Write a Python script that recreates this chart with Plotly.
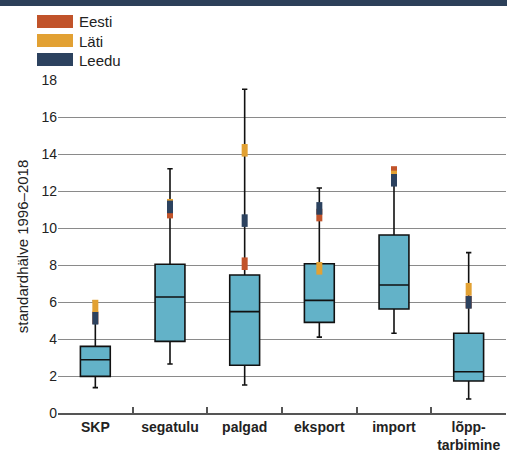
import plotly.graph_objects as go

# Standard deviation of growth rates, 1996–2018 (box = distribution across countries)
categories = ["SKP", "segatulu", "palgad", "eksport", "import", "lõpp-<br>tarbimine"]
q1 = [1.98, 3.87, 2.58, 4.90, 5.62, 1.73]
median = [2.88, 6.27, 5.48, 6.09, 6.92, 2.23]
q3 = [3.60, 8.04, 7.46, 8.07, 9.62, 4.31]
lower_whisker = [1.37, 2.65, 1.51, 4.10, 4.31, 0.76]
upper_whisker = [6.07, 13.20, 17.50, 12.16, 12.50, 8.67]

countries = ["Eesti", "Läti", "Leedu"]
eesti = [5.15, 10.86, 8.07, 10.70, 13.00, 6.00]
lati = [5.78, 11.23, 14.20, 7.82, 12.76, 6.69]
leedu = [5.12, 11.14, 10.40, 11.06, 12.58, 5.98]
country_values = [eesti, lati, leedu]
country_colors = ["#c1532a", "#e2a133", "#2c425f"]

y_ticks = [0, 2, 4, 6, 8, 10, 12, 14, 16, 18]

W, H = 507, 452
ML, MR, MT, MB = 58, 1, 80, 39
PW, PH = W - ML - MR, H - MT - MB
FONT = "Liberation Sans, Arial, Helvetica, sans-serif"


def px_x(p):
    return (p - ML) / PW


def px_y(p):
    return (H - MB - p) / PH


fig = go.Figure()

fig.add_trace(go.Box(
    x=categories,
    q1=q1, median=median, q3=q3,
    lowerfence=lower_whisker, upperfence=upper_whisker,
    width=0.4, whiskerwidth=0.18,
    fillcolor="#63b2c8",
    line=dict(color="#111111", width=1.6),
    boxpoints=False, showlegend=False, hoverinfo="skip",
))

for name, vals, col in zip(countries, country_values, country_colors):
    fig.add_trace(go.Scatter(
        x=categories, y=vals, mode="markers", name=name,
        marker=dict(symbol="line-ns", size=9, color=col,
                    line=dict(color=col, width=6)),
        showlegend=False, hoverinfo="skip",
    ))

shapes = [
    # dark header band
    dict(type="rect", xref="paper", yref="paper",
         x0=px_x(0), x1=px_x(W), y0=px_y(6), y1=px_y(0),
         fillcolor="#2c4059", line=dict(width=0), layer="above"),
]
annotations = []
for i, (name, col) in enumerate(zip(countries, country_colors)):
    top = 15 + i * 19
    shapes.append(dict(type="rect", xref="paper", yref="paper",
                       x0=px_x(37), x1=px_x(73), y0=px_y(top + 13), y1=px_y(top),
                       fillcolor=col, line=dict(width=0)))
    annotations.append(dict(xref="paper", yref="paper", x=px_x(77), y=px_y(top + 7),
                            xanchor="left", yanchor="middle", text=name, showarrow=False,
                            font=dict(family=FONT, size=15, color="#222222")))

fig.update_layout(
    width=W, height=H,
    margin=dict(l=ML, r=MR, t=MT, b=MB, autoexpand=False),
    paper_bgcolor="white", plot_bgcolor="white",
    font=dict(family=FONT, color="#222222"),
    shapes=shapes, annotations=annotations,
    xaxis=dict(
        type="category", range=[-0.5, 5.5], automargin=False,
        showline=True, linecolor="#555555", linewidth=1.5,
        ticks="inside", tickson="boundaries", ticklen=6,
        tickcolor="#555555", tickwidth=1.5,
        showgrid=False, ticklabelstandoff=0,
        tickfont=dict(family=FONT, size=14, color="#222222", weight="bold"),
    ),
    yaxis=dict(
        range=[0, 18], tickvals=y_ticks, automargin=False,
        showgrid=True, gridcolor="#8a8a8a", gridwidth=1,
        zeroline=False, showline=False, ticks="",
        tickfont=dict(family=FONT, size=14, color="#222222"),
        title=dict(text="standardhälve 1996–2018", standoff=9,
                   font=dict(family=FONT, size=15, color="#222222")),
    ),
)

fig.write_html("out.html")
